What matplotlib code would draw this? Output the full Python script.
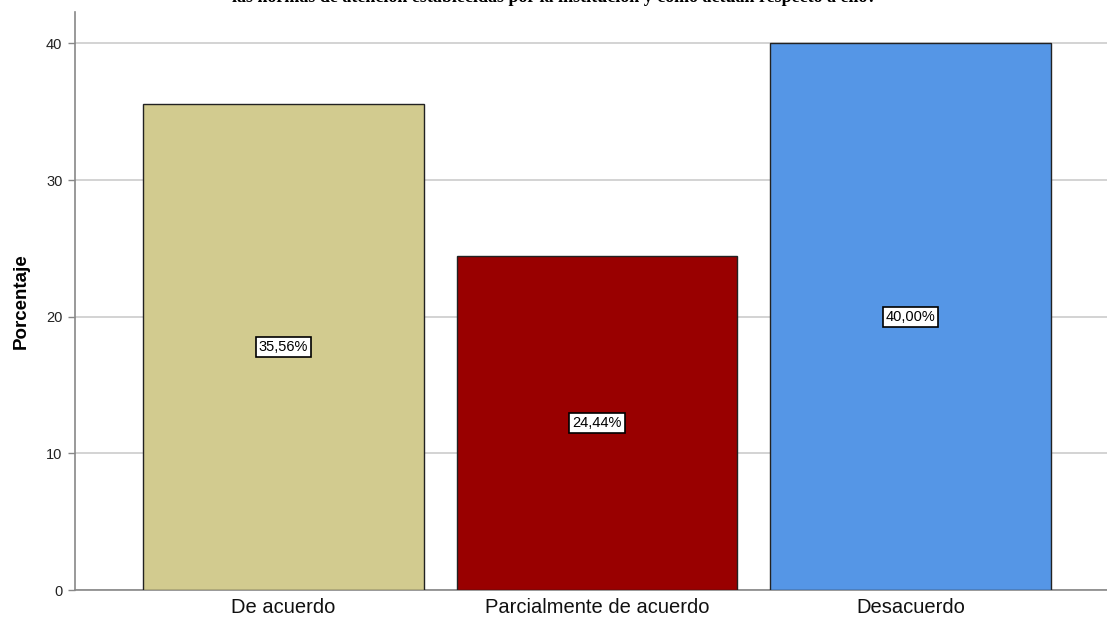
import matplotlib
matplotlib.use("Agg")
import matplotlib.pyplot as plt

categories = ["De acuerdo", "Parcialmente de acuerdo", "Desacuerdo"]
values = [35.56, 24.44, 40.00]
labels = ["35,56%", "24,44%", "40,00%"]
colors = ["#D2CB8F", "#990000", "#5596E6"]
yticks = [0, 10, 20, 30, 40]
title = "las normas de atención establecidas por la institución y cómo actúan respecto a ello?"

plt.rcParams['font.family'] = ['Liberation Sans', 'DejaVu Sans']

fig = plt.figure(figsize=(11.07, 6.25), dpi=100)
ax = fig.add_axes([75/1107, 35/625, 1 - 75/1107, (590-12)/625])

x = list(range(len(categories)))
ax.bar(x, values, width=0.896, color=colors, edgecolor="#222222", linewidth=1.0, zorder=3)
for xi, v, lab in zip(x, values, labels):
    ax.text(xi, v / 2, lab, ha="center", va="center", fontsize=10.5, color="black", zorder=4,
            bbox=dict(boxstyle="square,pad=0.2", facecolor="white", edgecolor="black", linewidth=1.2))

ax.set_xlim(-0.665, 2.627)
ax.set_ylim(0, 42.3)
ax.set_yticks(yticks)
ax.set_yticklabels([str(t) for t in yticks], fontsize=10.5, color="#222222")
ax.set_xticks(x)
ax.set_xticklabels(categories, fontsize=14.5, color="#111111")
ax.tick_params(axis="x", length=0, pad=6)
ax.tick_params(axis="y", length=5, color="#888888", width=1, pad=4)
ax.yaxis.grid(True, color="#CCCCCC", linewidth=1.2, zorder=0)
ax.set_axisbelow(True)
for s in ["top", "right"]:
    ax.spines[s].set_visible(False)
for s in ["left", "bottom"]:
    ax.spines[s].set_color("#888888")
    ax.spines[s].set_linewidth(1.2)
ax.set_ylabel("Porcentaje", fontsize=13.5, fontweight="bold", labelpad=12)

fig.text(554/1107, 1.0 + 2/625, title, ha="center", va="center", fontsize=13,
         fontweight="bold", family=["Liberation Serif", "DejaVu Serif"])

fig.savefig("out.png", dpi=100)
